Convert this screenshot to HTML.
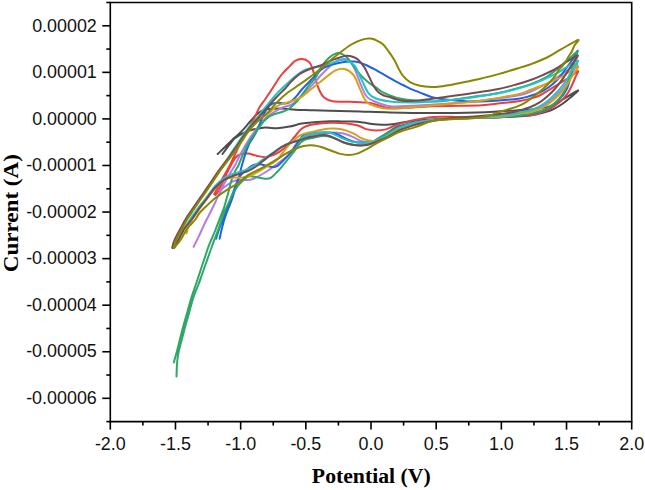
<!DOCTYPE html>
<html><head><meta charset="utf-8"><style>
html,body{margin:0;padding:0;background:#fff;}
body{width:645px;height:490px;overflow:hidden;}
svg{display:block;}
.tl{font-family:"Liberation Sans",sans-serif;font-size:17.9px;fill:#111;}
.at{font-family:"Liberation Serif",serif;font-weight:bold;font-size:20px;fill:#000;}
</style></head><body>
<svg width="645" height="490" viewBox="0 0 645 490">
<g fill="none" stroke-width="2" stroke-linecap="round" stroke-linejoin="round">
<path d="M217.7,154.0 C218.9,152.8 222.6,149.4 225.0,147.0 C227.4,144.6 230.2,141.7 232.4,139.6 C234.6,137.5 236.5,136.2 238.3,134.5 C240.1,132.8 241.8,131.1 243.4,129.4 C245.0,127.7 246.4,125.9 247.8,124.2 C249.2,122.5 250.6,121.0 252.0,119.5 C253.4,118.0 254.6,116.3 256.0,115.0 C257.4,113.7 258.8,112.5 260.5,111.5 C262.2,110.5 263.6,109.8 266.0,109.3 C268.4,108.8 271.8,108.8 275.0,108.7 C278.2,108.6 282.0,108.5 285.4,108.7 C288.8,108.9 291.4,109.5 295.6,109.7 C299.9,110.0 305.2,110.0 310.9,110.2 C316.6,110.4 321.8,110.6 330.0,110.8 C338.2,111.0 350.0,111.2 360.0,111.5 C370.0,111.8 377.8,112.2 390.0,112.4 C402.2,112.7 418.5,113.0 433.0,113.0 C447.5,113.0 465.8,112.7 477.0,112.4 C488.2,112.1 493.7,111.6 500.0,111.3 C506.3,111.0 510.0,110.7 515.0,110.4 C520.0,110.1 524.3,110.0 530.0,109.4 C535.7,108.8 543.6,108.2 549.0,106.6 C554.4,104.9 557.8,102.2 562.6,99.5 C567.4,96.8 576.6,90.9 578.0,90.5 C579.4,90.1 573.4,95.0 570.8,97.2 C568.2,99.4 565.3,101.9 562.6,103.8 C559.9,105.7 557.2,107.3 554.5,108.7 C551.8,110.1 550.4,110.8 546.3,111.9 C542.2,113.0 537.7,114.6 530.0,115.5 C522.3,116.4 510.0,116.8 500.0,117.2 C490.0,117.6 481.7,117.6 470.0,118.0 C458.3,118.4 440.4,119.0 430.0,119.6 C419.6,120.2 413.8,121.0 407.5,121.8 C401.2,122.6 396.2,123.7 392.0,124.2 C387.8,124.7 385.3,124.8 382.0,124.8 C378.7,124.8 375.1,124.4 372.0,124.0 C368.9,123.6 366.4,123.0 363.3,122.6 C360.2,122.2 357.2,121.8 353.3,121.6 C349.4,121.4 343.9,121.3 340.0,121.3 C336.1,121.2 334.3,121.1 330.0,121.3 C325.7,121.5 318.7,121.9 314.0,122.3 C309.3,122.7 305.8,122.9 301.7,123.6 C297.6,124.3 293.6,125.8 289.5,126.6 C285.4,127.4 280.1,128.0 277.2,128.2 C274.3,128.4 274.1,128.1 272.0,128.0 C269.9,127.9 266.8,127.3 264.7,127.4 C262.6,127.5 261.1,128.2 259.1,128.6 C257.2,128.9 254.9,129.1 253.0,129.5 C251.1,129.9 249.2,130.5 247.9,131.0 C246.6,131.5 245.9,132.0 244.9,132.5 C243.9,133.0 243.0,133.2 241.9,133.8 C240.8,134.4 239.6,135.2 238.3,136.0 C237.0,136.8 235.0,137.9 233.9,138.9 C232.8,139.9 232.7,140.4 231.6,141.9 C230.5,143.4 228.7,145.7 227.2,147.7 C225.7,149.7 223.3,152.9 222.5,154.0" stroke="#4d4d4d"/>
<path d="M214.2,194.2 C215.0,192.8 217.3,188.3 218.8,185.5 C220.3,182.7 221.2,180.8 223.0,177.5 C224.8,174.2 227.8,169.3 229.5,166.0 C231.2,162.7 231.8,161.0 233.5,157.5 C235.2,154.0 237.6,148.8 239.5,145.0 C241.4,141.2 243.3,138.1 245.0,135.0 C246.7,131.9 248.2,129.4 249.8,126.5 C251.4,123.6 252.8,120.8 254.5,117.5 C256.2,114.2 258.2,109.5 260.0,106.5 C261.8,103.5 262.8,102.7 265.0,99.5 C267.2,96.3 270.5,91.3 273.2,87.2 C275.9,83.1 278.5,78.5 281.3,75.0 C284.1,71.5 287.7,68.3 290.0,65.9 C292.3,63.5 293.1,61.9 295.1,60.8 C297.1,59.7 299.7,59.0 302.0,59.1 C304.3,59.2 307.1,60.3 308.8,61.7 C310.5,63.1 311.1,64.6 312.2,67.6 C313.3,70.6 314.5,75.9 315.6,79.6 C316.7,83.2 317.6,86.5 319.0,89.5 C320.4,92.5 321.8,95.5 324.1,97.5 C326.4,99.5 328.3,100.5 332.6,101.2 C336.9,101.9 344.0,101.5 349.7,101.7 C355.4,101.9 362.5,102.2 366.7,102.6 C370.9,103.0 372.3,103.5 375.0,104.2 C377.7,104.9 380.2,106.1 383.0,106.8 C385.8,107.5 387.2,108.2 392.0,108.3 C396.8,108.4 404.8,107.8 411.7,107.5 C418.6,107.2 425.3,106.5 433.4,106.2 C441.4,105.9 451.9,106.0 460.0,105.8 C468.1,105.6 475.1,105.6 481.8,105.2 C488.5,104.8 493.6,104.0 500.0,103.3 C506.4,102.6 515.0,101.8 520.0,101.0 C525.0,100.2 526.7,99.6 530.0,98.7 C533.3,97.8 536.6,96.9 539.6,95.5 C542.6,94.1 544.8,92.5 548.1,90.5 C551.4,88.5 555.6,85.8 559.3,83.5 C563.0,81.2 567.4,78.6 570.5,76.5 C573.6,74.4 577.2,70.9 578.0,71.0 C578.8,71.1 576.5,74.8 575.5,77.0 C574.5,79.2 573.4,82.1 572.3,84.5 C571.2,86.9 570.1,89.3 568.8,91.5 C567.5,93.7 565.9,95.7 564.3,97.5 C562.7,99.3 561.7,100.5 559.2,102.4 C556.7,104.4 552.7,107.4 549.4,109.2 C546.1,111.0 542.8,112.1 539.6,113.1 C536.4,114.1 536.9,114.6 530.0,115.2 C523.1,115.8 507.4,116.5 498.5,116.9 C489.6,117.3 484.0,117.5 476.8,117.5 C469.6,117.5 462.3,117.0 455.1,116.9 C447.9,116.8 439.2,116.6 433.4,116.9 C427.5,117.2 424.3,118.2 420.0,119.0 C415.7,119.8 411.6,120.5 407.5,121.6 C403.4,122.7 398.7,124.2 395.1,125.5 C391.5,126.8 388.9,128.6 385.8,129.4 C382.7,130.2 379.6,130.5 376.5,130.5 C373.4,130.5 370.3,130.2 367.2,129.4 C364.1,128.6 361.5,126.5 357.9,125.5 C354.3,124.5 350.1,123.7 345.5,123.2 C340.9,122.8 335.2,122.6 330.0,122.8 C324.8,123.0 317.9,123.7 314.0,124.2 C310.1,124.7 308.9,125.1 306.6,126.0 C304.4,126.9 302.5,127.9 300.5,129.7 C298.5,131.5 296.6,134.3 294.4,137.0 C292.1,139.7 289.4,143.2 287.0,145.6 C284.6,148.0 282.1,150.1 279.7,151.7 C277.2,153.3 274.8,154.5 272.3,155.4 C269.9,156.3 267.6,157.1 265.0,157.2 C262.4,157.2 259.2,156.3 256.4,155.7 C253.5,155.1 250.5,153.8 247.9,153.6 C245.3,153.4 242.8,153.6 240.7,154.3 C238.6,155.0 236.9,156.0 235.2,158.0 C233.5,160.0 231.9,163.4 230.3,166.3 C228.7,169.2 227.2,172.6 225.8,175.5 C224.4,178.4 223.2,181.4 221.9,184.0 C220.6,186.6 219.3,189.4 218.2,191.2 C217.1,193.0 215.9,194.4 215.4,195.0" stroke="#e8403f"/>
<path d="M193.6,246.8 C194.4,245.1 197.0,240.2 198.7,236.6 C200.4,233.0 202.1,229.0 203.8,225.4 C205.5,221.8 207.2,218.6 208.9,215.2 C210.6,211.8 211.9,209.4 214.0,205.0 C216.1,200.6 218.7,193.8 221.4,188.6 C224.1,183.3 227.7,177.4 230.0,173.5 C232.3,169.6 233.4,168.1 235.1,165.0 C236.8,161.9 238.5,158.0 240.2,154.8 C241.9,151.6 243.6,148.5 245.3,145.6 C247.0,142.7 248.7,139.9 250.4,137.4 C252.1,134.9 253.7,132.8 255.5,130.3 C257.4,127.8 259.6,124.8 261.5,122.5 C263.4,120.2 265.2,118.3 267.0,116.8 C268.8,115.3 270.3,114.4 272.0,113.3 C273.7,112.2 275.4,111.2 277.0,110.3 C278.6,109.4 280.3,108.5 281.9,107.8 C283.5,107.1 284.9,106.8 286.5,106.3 C288.1,105.8 289.6,105.4 291.2,104.6 C292.8,103.8 294.4,102.6 296.0,101.2 C297.6,99.8 298.7,98.4 300.7,96.4 C302.7,94.4 305.3,91.8 307.9,89.3 C310.4,86.8 313.8,83.5 316.0,81.1 C318.2,78.7 318.1,78.1 321.1,75.0 C324.2,71.9 330.7,65.2 334.3,62.5 C337.9,59.9 340.3,59.4 342.9,59.1 C345.5,58.8 347.7,59.1 349.7,60.8 C351.7,62.5 352.8,65.0 354.8,69.3 C356.8,73.6 359.6,81.9 361.6,86.4 C363.6,91.0 364.4,94.0 366.7,96.6 C369.0,99.1 371.4,100.1 375.3,101.7 C379.2,103.3 383.9,105.5 390.0,106.2 C396.1,106.9 404.5,106.1 411.7,105.8 C418.9,105.5 425.3,105.0 433.4,104.5 C441.4,104.0 450.6,103.3 460.0,102.5 C469.4,101.7 480.0,100.8 490.0,99.5 C500.0,98.2 513.0,96.4 520.0,95.0 C527.0,93.6 527.3,93.0 532.0,91.0 C536.7,89.0 542.8,85.9 548.0,83.0 C553.2,80.1 558.2,76.7 563.0,73.5 C567.8,70.3 575.5,63.9 577.0,63.8 C578.5,63.7 573.8,69.7 572.0,73.0 C570.2,76.3 568.6,80.2 566.5,83.5 C564.4,86.8 562.1,89.5 559.2,92.5 C556.4,95.5 552.7,99.0 549.4,101.5 C546.1,104.0 542.8,106.2 539.6,107.8 C536.4,109.4 533.3,110.3 530.0,111.2 C526.7,112.1 525.0,112.2 520.0,113.0 C515.0,113.8 508.3,115.5 500.0,116.3 C491.7,117.1 481.7,117.1 470.0,117.8 C458.3,118.5 440.4,119.2 430.0,120.3 C419.6,121.4 413.8,122.6 407.5,124.3 C401.2,126.0 396.6,128.1 392.0,130.5 C387.4,132.9 383.4,137.0 380.0,139.0 C376.6,141.0 374.0,142.0 371.9,142.6 C369.8,143.2 369.0,142.9 367.2,142.6 C365.4,142.3 363.3,141.9 361.0,141.0 C358.7,140.1 356.4,138.4 353.3,137.1 C350.2,135.8 346.3,134.1 342.4,133.3 C338.5,132.5 334.6,132.4 330.0,132.5 C325.4,132.6 319.3,133.0 315.0,134.0 C310.7,135.0 307.2,136.8 304.2,138.3 C301.2,139.8 299.2,140.5 296.8,143.2 C294.4,145.8 292.8,150.7 289.5,154.2 C286.2,157.7 281.3,160.9 277.2,164.0 C273.1,167.1 269.2,169.9 265.0,172.5 C260.8,175.1 255.7,178.1 252.1,179.3 C248.5,180.6 246.4,179.8 243.6,180.0 C240.8,180.2 237.6,179.8 235.0,180.5 C232.4,181.2 230.3,182.9 228.0,184.5 C225.7,186.1 223.7,186.6 221.4,190.0 C219.1,193.4 215.2,202.5 214.0,205.0" stroke="#b07ce6"/>
<path d="M219.6,238.7 C220.0,236.9 221.0,231.8 222.0,228.0 C223.0,224.2 223.8,220.8 225.5,216.0 C227.2,211.2 230.1,204.3 231.9,199.3 C233.7,194.3 235.0,189.9 236.3,185.8 C237.6,181.8 238.6,178.5 239.5,175.0 C240.4,171.5 241.0,168.5 242.0,165.0 C243.0,161.5 244.1,157.6 245.3,154.0 C246.5,150.4 248.1,146.3 249.3,143.6 C250.6,140.9 251.4,140.3 252.8,138.0 C254.2,135.7 256.1,132.4 257.5,129.5 C258.9,126.6 259.9,123.1 261.0,120.5 C262.1,117.9 262.9,116.2 264.0,114.0 C265.1,111.8 266.5,109.3 267.9,107.6 C269.3,105.9 270.7,104.4 272.6,103.6 C274.5,102.8 277.1,102.8 279.1,102.8 C281.1,102.8 283.1,103.6 284.7,103.6 C286.3,103.6 287.7,103.2 289.0,102.6 C290.3,102.0 291.1,101.4 292.5,100.2 C293.9,99.0 295.6,97.1 297.2,95.3 C298.8,93.5 300.0,91.5 301.8,89.5 C303.6,87.5 305.9,85.3 307.9,83.2 C309.9,81.1 311.3,79.6 314.0,77.0 C316.7,74.4 319.4,70.1 324.1,67.6 C328.8,65.1 337.2,63.2 342.3,62.2 C347.4,61.2 351.2,61.3 354.5,61.5 C357.8,61.7 359.8,62.7 361.9,63.4 C364.0,64.1 365.0,64.5 367.1,65.5 C369.2,66.5 371.9,67.9 374.3,69.2 C376.7,70.5 379.0,71.9 381.4,73.2 C383.8,74.5 386.2,75.9 388.6,77.3 C391.0,78.7 393.3,80.1 395.7,81.4 C398.1,82.7 400.5,83.8 402.9,85.0 C405.3,86.2 407.6,87.5 410.0,88.6 C412.4,89.7 414.7,90.5 417.1,91.4 C419.5,92.4 421.9,93.4 424.3,94.3 C426.7,95.2 428.8,96.2 431.4,97.0 C434.0,97.8 437.2,98.3 440.0,98.8 C442.8,99.2 444.6,99.4 447.9,99.7 C451.2,100.0 455.2,100.5 460.0,100.8 C464.8,101.1 470.4,101.6 476.8,101.5 C483.2,101.4 491.3,100.9 498.5,100.4 C505.7,99.9 514.8,99.1 520.0,98.4 C525.2,97.7 526.5,97.0 529.8,96.0 C533.1,95.0 536.3,94.0 539.6,92.5 C542.9,91.0 546.3,89.0 549.4,86.7 C552.5,84.5 555.2,82.0 558.0,79.0 C560.8,76.0 563.6,71.8 566.0,68.5 C568.4,65.2 570.5,62.5 572.5,59.5 C574.5,56.5 577.5,50.5 577.8,50.7 C578.1,51.0 575.7,56.9 574.5,61.0 C573.3,65.1 572.0,70.9 570.8,75.5 C569.6,80.1 569.0,84.5 567.1,88.5 C565.2,92.5 562.2,96.3 559.2,99.4 C556.2,102.5 552.7,105.2 549.4,107.3 C546.1,109.3 542.9,110.6 539.6,111.7 C536.3,112.8 533.1,113.4 529.8,114.1 C526.5,114.8 525.0,115.1 520.0,115.6 C515.0,116.1 508.3,116.8 500.0,117.2 C491.7,117.6 481.7,117.3 470.0,117.8 C458.3,118.3 440.4,119.1 430.0,120.1 C419.6,121.1 413.3,122.7 407.5,124.0 C401.7,125.3 399.0,126.0 395.1,127.8 C391.2,129.6 388.2,132.5 384.3,134.8 C380.4,137.1 375.6,140.5 371.9,141.8 C368.2,143.1 364.9,142.8 362.0,142.8 C359.1,142.8 357.2,142.6 354.4,141.8 C351.6,141.0 347.9,139.4 345.1,138.2 C342.3,137.0 340.2,135.3 337.7,134.4 C335.2,133.5 333.6,133.1 330.2,132.8 C326.8,132.5 321.5,132.5 317.2,132.8 C312.9,133.1 307.2,133.5 304.2,134.8 C301.2,136.1 301.1,138.3 299.3,140.7 C297.5,143.1 295.2,146.7 293.2,149.3 C291.1,152.0 289.6,153.9 287.0,156.6 C284.4,159.3 280.4,163.9 277.9,165.7 C275.4,167.4 274.0,167.1 272.1,167.1 C270.2,167.1 268.5,166.2 266.4,165.7 C264.3,165.2 261.4,164.4 259.3,164.3 C257.2,164.2 255.8,164.1 253.6,165.0 C251.4,165.9 248.8,168.0 246.4,170.0 C244.0,172.0 241.4,173.8 239.3,177.1 C237.2,180.4 235.7,185.7 234.0,190.0 C232.3,194.3 230.7,198.7 229.0,203.0 C227.3,207.3 225.6,211.8 224.0,216.0 C222.4,220.2 220.8,224.2 219.5,228.0 C218.2,231.8 216.6,236.9 216.0,238.7" stroke="#1f63e0"/>
<path d="M173.9,362.5 C174.1,361.6 174.8,358.9 175.3,357.0 C175.8,355.1 176.4,353.2 177.0,351.0 C177.6,348.8 178.1,346.7 178.8,344.0 C179.5,341.3 180.2,338.2 181.0,335.0 C181.8,331.8 182.7,328.3 183.6,325.0 C184.5,321.7 185.6,318.3 186.5,315.0 C187.4,311.7 188.4,308.3 189.3,305.0 C190.2,301.7 191.1,298.3 192.2,295.0 C193.3,291.7 194.6,288.3 195.7,285.0 C196.8,281.7 197.9,278.3 199.0,275.0 C200.1,271.7 201.2,268.2 202.3,265.0 C203.4,261.8 204.4,258.8 205.3,256.0 C206.2,253.2 206.9,251.1 207.8,248.5 C208.7,245.9 209.5,244.0 210.9,240.7 C212.3,237.4 214.3,232.8 216.0,228.5 C217.7,224.2 219.7,218.8 221.1,215.2 C222.5,211.6 222.9,211.0 224.2,207.0 C225.4,203.0 227.4,195.8 228.6,191.4 C229.8,187.0 230.3,183.9 231.4,180.5 C232.5,177.1 234.0,173.8 235.2,171.2 C236.4,168.6 237.3,167.9 238.6,165.0 C239.9,162.1 241.6,157.4 243.2,153.8 C244.8,150.2 246.6,146.7 248.3,143.6 C250.0,140.5 251.7,137.9 253.4,135.4 C255.1,132.9 256.7,130.7 258.5,128.3 C260.3,125.9 262.2,123.1 264.0,121.1 C265.8,119.1 267.7,117.6 269.5,116.4 C271.3,115.2 273.0,114.7 275.0,114.0 C277.0,113.3 279.7,112.7 281.7,112.0 C283.7,111.3 285.4,110.9 287.0,110.0 C288.6,109.1 289.7,108.2 291.5,106.6 C293.3,105.0 295.6,102.9 297.7,100.5 C299.8,98.1 301.8,95.0 303.8,92.3 C305.8,89.6 307.9,86.8 309.9,84.2 C311.9,81.7 314.2,79.8 316.0,77.0 C317.8,74.2 318.5,70.9 320.7,67.6 C322.9,64.3 326.4,59.8 329.2,57.4 C332.0,55.0 335.2,53.5 337.4,53.0 C339.6,52.5 340.5,53.3 342.3,54.2 C344.1,55.1 346.0,56.3 348.0,58.5 C350.0,60.7 352.2,64.5 354.5,67.5 C356.8,70.5 359.4,73.9 361.9,76.5 C364.3,79.1 366.8,81.1 369.2,83.0 C371.6,84.9 374.6,86.5 376.6,87.9 C378.6,89.3 379.4,90.3 381.4,91.5 C383.4,92.7 386.0,93.9 388.6,95.0 C391.2,96.1 394.0,97.1 397.1,97.9 C400.2,98.7 401.1,99.2 407.1,99.8 C413.2,100.4 425.4,101.5 433.4,101.5 C441.4,101.5 447.9,100.4 455.1,99.5 C462.3,98.6 469.6,97.4 476.8,96.3 C484.0,95.2 491.3,94.5 498.5,93.0 C505.7,91.5 515.0,88.9 520.2,87.5 C525.5,86.1 525.6,86.2 530.0,84.5 C534.4,82.8 542.0,79.4 546.3,77.0 C550.6,74.6 553.0,72.3 556.0,70.0 C559.0,67.7 561.5,65.2 564.0,63.0 C566.5,60.8 568.8,58.8 571.0,57.0 C573.2,55.2 576.6,51.3 577.0,52.5 C577.4,53.7 574.8,59.8 573.5,64.0 C572.2,68.2 570.9,73.7 569.5,78.0 C568.1,82.3 566.9,86.3 565.0,90.0 C563.1,93.7 560.7,97.1 558.0,100.0 C555.3,102.9 552.0,105.4 549.0,107.3 C546.0,109.2 543.2,110.2 540.0,111.3 C536.8,112.4 533.3,113.1 530.0,113.8 C526.7,114.5 525.0,114.8 520.0,115.3 C515.0,115.8 508.3,116.5 500.0,116.9 C491.7,117.3 481.7,117.2 470.0,117.8 C458.3,118.4 440.4,119.4 430.0,120.5 C419.6,121.6 413.8,122.8 407.5,124.5 C401.2,126.2 396.6,128.3 392.0,130.5 C387.4,132.7 383.3,135.7 380.0,137.8 C376.7,139.9 375.0,141.9 372.0,143.2 C369.0,144.5 364.9,145.3 362.0,145.6 C359.1,145.9 357.2,145.4 354.4,145.0 C351.6,144.6 347.9,143.9 345.1,143.0 C342.3,142.1 340.2,140.6 337.7,139.6 C335.2,138.6 332.4,137.4 330.2,136.8 C328.0,136.2 326.4,136.1 324.5,136.0 C322.6,135.9 321.1,136.2 319.0,136.5 C316.9,136.8 314.3,137.4 312.0,137.9 C309.7,138.4 306.9,138.9 305.0,139.7 C303.1,140.5 301.9,141.5 300.5,142.8 C299.1,144.2 298.1,145.8 296.6,147.8 C295.1,149.8 293.3,152.5 291.4,155.0 C289.4,157.5 287.1,160.3 284.9,162.9 C282.7,165.5 280.7,168.2 278.3,170.7 C275.9,173.2 273.1,176.6 270.7,177.9 C268.2,179.2 266.0,178.7 263.6,178.6 C261.2,178.5 258.8,177.5 256.4,177.1 C254.0,176.7 251.7,175.7 249.3,176.4 C246.9,177.1 244.5,179.1 242.1,181.4 C239.7,183.7 237.0,186.9 235.0,190.0 C233.0,193.1 231.8,196.2 230.0,200.0 C228.2,203.8 225.8,208.4 224.0,213.0 C222.2,217.6 220.8,222.8 219.1,227.4 C217.4,232.0 215.3,237.3 214.0,240.7 C212.7,244.1 212.2,245.6 211.3,248.0 C210.5,250.4 209.9,252.2 208.9,255.0 C207.9,257.8 206.5,261.7 205.3,265.0 C204.1,268.3 203.0,271.7 201.8,275.0 C200.6,278.3 199.6,281.7 198.3,285.0 C197.0,288.3 195.4,291.7 194.2,295.0 C193.0,298.3 192.1,301.7 191.2,305.0 C190.2,308.3 189.4,311.7 188.5,315.0 C187.6,318.3 186.5,321.7 185.6,325.0 C184.7,328.3 183.8,331.8 183.0,335.0 C182.2,338.2 181.3,341.3 180.6,344.0 C179.9,346.7 179.3,348.7 178.8,351.0 C178.3,353.3 177.9,355.5 177.6,358.0 C177.3,360.5 177.1,362.9 176.9,366.0 C176.7,369.1 176.6,374.7 176.5,376.4" stroke="#2da866"/>
<path d="M174.2,247.0 C174.3,246.5 174.2,245.3 174.6,244.0 C175.0,242.7 175.8,240.7 176.5,239.0 C177.2,237.3 178.1,235.7 179.0,234.0 C179.9,232.3 180.9,230.7 181.8,229.0 C182.7,227.3 183.6,225.7 184.5,224.0 C185.4,222.3 185.8,221.3 187.2,219.0 C188.6,216.7 191.1,213.1 193.2,210.0 C195.3,206.9 197.6,203.6 199.7,200.5 C201.8,197.4 203.9,194.6 206.0,191.5 C208.1,188.4 210.4,185.1 212.5,182.0 C214.6,178.9 216.6,175.8 218.5,173.0 C220.4,170.2 222.1,168.0 224.0,165.5 C225.9,163.0 227.9,160.5 229.8,158.0 C231.7,155.5 233.5,153.0 235.3,150.5 C237.1,148.0 238.8,145.5 240.5,143.0 C242.2,140.5 243.8,137.9 245.5,135.5 C247.2,133.1 248.7,130.7 250.5,128.5 C252.3,126.3 254.6,124.1 256.5,122.3 C258.4,120.5 260.2,118.8 262.0,117.5 C263.8,116.2 265.4,115.3 267.0,114.2 C268.6,113.1 270.1,112.0 271.5,110.8 C272.9,109.6 274.0,108.2 275.5,107.2 C277.0,106.2 277.8,105.5 280.3,104.6 C282.8,103.6 287.1,102.7 290.5,101.5 C293.9,100.3 297.3,99.4 300.7,97.4 C304.1,95.4 307.7,91.8 310.9,89.3 C314.1,86.8 317.8,84.0 320.1,82.1 C322.5,80.2 322.4,80.1 325.0,78.1 C327.6,76.1 332.7,71.7 336.0,70.2 C339.3,68.7 341.8,68.3 344.6,69.0 C347.5,69.7 350.8,71.9 353.1,74.5 C355.4,77.1 356.5,81.0 358.2,84.7 C359.9,88.4 361.6,93.5 363.3,96.6 C365.0,99.7 365.6,101.6 368.4,103.4 C371.2,105.2 376.4,106.6 380.0,107.5 C383.6,108.4 384.7,108.8 390.0,108.8 C395.3,108.8 404.5,107.8 411.7,107.3 C418.9,106.8 426.2,106.2 433.4,105.6 C440.6,104.9 447.9,104.1 455.1,103.4 C462.3,102.7 469.6,102.1 476.8,101.2 C484.0,100.3 491.3,99.3 498.5,98.0 C505.7,96.7 515.0,94.9 520.2,93.6 C525.5,92.3 525.7,91.6 530.0,90.0 C534.3,88.4 540.7,86.2 546.0,84.0 C551.3,81.8 556.7,79.5 562.0,76.5 C567.3,73.5 576.2,66.4 578.0,66.2 C579.8,66.0 574.3,72.4 572.5,75.5 C570.7,78.6 569.3,81.5 567.1,84.7 C564.9,87.9 562.2,91.4 559.2,94.5 C556.2,97.6 552.7,100.8 549.4,103.3 C546.1,105.8 542.9,107.7 539.6,109.2 C536.3,110.7 533.1,111.5 529.8,112.2 C526.5,112.9 525.0,112.8 520.0,113.6 C515.0,114.4 508.3,116.1 500.0,116.8 C491.7,117.5 480.0,117.5 470.0,118.0 C460.0,118.5 449.2,118.7 440.0,119.5 C430.8,120.3 421.7,121.6 415.0,123.0 C408.3,124.4 404.1,126.2 400.0,128.0 C395.9,129.8 393.5,132.0 390.2,133.9 C386.9,135.8 382.8,138.3 380.0,139.5 C377.2,140.7 375.5,140.9 373.4,141.0 C371.3,141.1 369.3,140.7 367.2,140.2 C365.1,139.7 363.3,139.1 361.0,137.9 C358.7,136.8 356.4,134.7 353.3,133.3 C350.2,131.9 346.3,130.2 342.4,129.4 C338.5,128.6 334.3,128.3 330.0,128.6 C325.7,128.8 320.1,130.2 316.4,130.9 C312.7,131.6 310.8,132.0 307.9,132.8 C305.0,133.6 302.4,133.9 299.3,135.8 C296.2,137.7 293.1,140.5 289.5,144.4 C285.9,148.3 281.1,155.6 277.9,159.0 C274.6,162.4 272.4,163.0 270.0,164.6 C267.6,166.2 266.1,167.0 263.8,168.4 C261.5,169.8 258.6,171.5 256.0,172.8 C253.4,174.1 250.9,175.6 248.3,176.4 C245.7,177.2 243.0,177.6 240.5,177.8 C238.0,178.0 235.5,177.3 233.5,177.4 C231.5,177.5 230.0,177.9 228.5,178.3 C227.0,178.7 226.7,178.1 224.6,179.6 C222.5,181.1 219.1,183.7 216.0,187.1 C212.9,190.5 208.9,196.3 206.0,200.1 C203.1,203.8 201.1,206.4 198.8,209.6 C196.5,212.8 194.0,216.8 192.4,219.2 C190.8,221.6 190.1,222.4 189.3,224.0 C188.5,225.6 188.1,227.4 187.6,229.0 C187.1,230.6 186.8,232.7 186.6,233.4" stroke="#d4a21a"/>
<path d="M173.4,248.0 C173.5,247.3 173.8,245.5 174.2,244.0 C174.6,242.5 175.4,240.7 176.1,239.0 C176.8,237.3 177.7,235.7 178.6,234.0 C179.5,232.3 180.5,230.7 181.4,229.0 C182.3,227.3 183.2,225.7 184.1,224.0 C185.0,222.3 185.4,221.3 186.8,219.0 C188.2,216.7 190.7,213.1 192.8,210.0 C194.9,206.9 197.2,203.6 199.3,200.5 C201.4,197.4 203.5,194.6 205.6,191.5 C207.7,188.4 210.0,185.1 212.1,182.0 C214.2,178.9 216.3,175.8 218.1,173.0 C219.9,170.2 221.4,168.0 223.1,165.5 C224.8,163.0 226.5,160.5 228.1,158.0 C229.7,155.5 231.2,153.0 232.8,150.5 C234.4,148.0 236.2,145.5 237.9,143.0 C239.6,140.5 241.2,137.9 242.9,135.5 C244.6,133.1 246.2,130.8 247.9,128.5 C249.7,126.2 251.6,124.1 253.4,122.0 C255.2,119.9 256.6,118.4 258.5,116.0 C260.4,113.6 262.2,111.1 265.0,107.7 C267.8,104.3 271.8,99.2 275.2,95.4 C278.6,91.7 282.6,87.9 285.4,85.2 C288.2,82.5 289.9,81.0 292.0,79.2 C294.1,77.4 296.1,75.6 298.0,74.2 C299.9,72.8 301.6,71.6 303.6,70.6 C305.6,69.6 307.7,69.1 310.0,68.4 C312.3,67.7 313.8,67.4 317.3,66.6 C320.8,65.8 326.9,64.5 330.9,63.4 C334.9,62.3 338.3,60.4 341.2,60.0 C344.1,59.6 345.7,59.8 348.0,60.8 C350.3,61.8 352.5,62.8 354.8,65.9 C357.1,69.0 359.3,75.0 361.6,79.6 C363.9,84.1 366.1,90.1 368.4,93.2 C370.7,96.3 371.7,96.9 375.3,98.3 C378.9,99.7 383.9,100.8 390.0,101.5 C396.1,102.2 404.5,102.4 411.7,102.4 C418.9,102.4 426.2,101.9 433.4,101.4 C440.6,100.9 447.9,100.4 455.1,99.6 C462.3,98.8 469.6,97.8 476.8,96.8 C484.0,95.8 491.9,94.6 498.5,93.3 C505.1,92.0 510.6,90.5 516.3,89.0 C522.0,87.5 527.2,86.1 532.7,84.1 C538.2,82.1 544.6,79.0 549.0,77.0 C553.4,75.0 556.5,73.5 559.2,72.0 C561.9,70.5 562.2,69.7 565.3,67.8 C568.4,65.9 576.4,60.5 577.8,60.5 C579.2,60.5 574.8,65.3 573.5,67.5 C572.2,69.7 571.2,71.7 570.0,73.9 C568.8,76.1 567.9,78.2 566.1,80.8 C564.3,83.4 562.0,86.5 559.2,89.6 C556.4,92.7 552.7,96.6 549.4,99.4 C546.1,102.2 542.9,104.5 539.6,106.3 C536.3,108.1 533.1,109.2 529.8,110.2 C526.5,111.2 523.3,111.5 520.0,112.2 C516.7,112.9 516.7,113.7 510.0,114.5 C503.3,115.3 490.0,116.5 480.0,117.3 C470.0,118.0 459.2,118.4 450.0,119.0 C440.8,119.6 432.1,120.0 425.0,121.0 C417.9,122.0 413.0,122.8 407.5,124.8 C402.0,126.8 397.2,130.6 392.0,133.3 C386.8,136.0 380.6,139.4 376.5,141.0 C372.4,142.6 370.3,142.3 367.2,142.6 C364.1,142.9 360.8,142.8 357.9,142.6 C355.0,142.4 352.4,141.8 350.0,141.2 C347.6,140.5 345.7,139.7 343.4,138.7 C341.1,137.7 338.4,136.2 336.4,135.3 C334.4,134.4 333.2,133.7 331.5,133.2 C329.8,132.7 328.0,132.6 325.9,132.5 C323.8,132.4 321.3,132.6 319.0,132.8 C316.7,133.0 314.3,133.4 312.0,133.9 C309.7,134.4 307.3,134.9 305.0,136.0 C302.7,137.1 300.8,138.9 298.0,140.2 C295.2,141.4 290.8,142.4 288.1,143.5 C285.4,144.6 283.8,145.5 281.6,146.8 C279.4,148.1 277.3,149.8 275.1,151.3 C272.9,152.8 270.7,154.3 268.5,155.8 C266.3,157.3 264.1,158.9 262.0,160.4 C259.9,161.9 258.3,163.2 256.0,164.6 C253.7,166.0 250.9,167.6 248.3,168.8 C245.7,170.0 243.1,170.7 240.5,171.6 C237.9,172.5 235.4,173.0 232.8,174.0 C230.2,175.0 227.8,175.6 225.0,177.5 C222.2,179.4 218.9,182.0 215.7,185.5 C212.5,189.0 208.8,194.7 205.7,198.6 C202.6,202.5 199.9,205.6 197.3,209.0 C194.8,212.4 192.1,216.5 190.4,219.0 C188.7,221.5 188.2,222.3 187.2,224.0 C186.2,225.7 185.1,227.3 184.2,229.0 C183.2,230.7 182.4,232.3 181.5,234.0 C180.6,235.7 179.7,237.3 178.8,239.0 C177.9,240.7 176.8,242.5 176.0,244.0 C175.2,245.5 174.3,247.3 174.0,248.0" stroke="#1fc4c8"/>
<path d="M172.3,248.0 C172.4,247.3 172.7,245.5 173.1,244.0 C173.5,242.5 174.3,240.7 175.0,239.0 C175.7,237.3 176.6,235.7 177.5,234.0 C178.4,232.3 179.4,230.7 180.3,229.0 C181.2,227.3 182.1,225.7 183.0,224.0 C183.9,222.3 184.2,221.3 185.7,219.0 C187.1,216.7 189.6,213.1 191.7,210.0 C193.8,206.9 196.1,203.6 198.2,200.5 C200.3,197.4 202.4,194.6 204.5,191.5 C206.6,188.4 208.9,185.1 211.0,182.0 C213.1,178.9 215.1,175.8 217.0,173.0 C218.9,170.2 220.6,168.0 222.5,165.5 C224.4,163.0 226.4,160.5 228.3,158.0 C230.2,155.5 232.0,153.0 233.8,150.5 C235.6,148.0 237.3,145.5 239.0,143.0 C240.7,140.5 242.3,137.9 244.0,135.5 C245.7,133.1 247.2,130.8 249.0,128.5 C250.8,126.2 252.8,124.0 254.5,122.0 C256.2,120.0 257.8,118.8 259.5,116.8 C261.2,114.8 262.4,113.2 265.0,110.2 C267.6,107.2 271.8,102.2 275.2,98.5 C278.6,94.8 282.6,91.2 285.4,88.3 C288.2,85.3 289.5,83.2 292.0,80.8 C294.5,78.3 297.1,75.6 300.2,73.6 C303.3,71.6 307.1,70.0 310.5,68.7 C313.9,67.4 317.0,67.0 320.7,65.5 C324.4,64.0 328.3,61.6 332.6,60.0 C336.9,58.4 342.7,56.1 346.3,55.7 C349.9,55.3 352.5,56.8 354.5,57.5 C356.5,58.2 356.6,58.1 358.2,59.7 C359.8,61.3 362.5,64.2 364.3,67.1 C366.1,70.0 367.6,73.6 369.2,76.9 C370.8,80.2 372.5,84.1 374.1,86.7 C375.7,89.3 377.3,91.3 379.0,92.8 C380.7,94.3 382.5,95.0 384.3,95.7 C386.1,96.5 387.2,96.5 390.0,97.3 C392.8,98.1 397.3,99.8 400.9,100.4 C404.5,101.0 406.3,101.3 411.7,101.0 C417.1,100.7 426.2,99.5 433.4,98.6 C440.6,97.7 447.9,96.6 455.1,95.6 C462.3,94.6 469.6,93.6 476.8,92.5 C484.0,91.4 491.9,90.3 498.5,89.0 C505.1,87.7 510.6,86.1 516.3,84.5 C522.0,82.9 527.9,81.0 532.7,79.2 C537.5,77.5 541.4,75.6 545.0,74.0 C548.6,72.4 551.1,71.3 554.2,69.6 C557.3,67.9 560.6,65.7 563.4,64.0 C566.1,62.3 568.3,60.7 570.7,59.3 C573.1,57.9 577.8,54.7 578.0,55.6 C578.2,56.5 574.0,61.5 572.0,64.5 C570.0,67.5 568.2,70.7 566.1,73.9 C564.0,77.1 561.2,81.1 559.2,83.7 C557.2,86.3 555.9,87.7 554.3,89.5 C552.7,91.3 551.8,92.3 549.4,94.5 C547.0,96.7 542.9,100.3 539.6,102.4 C536.3,104.5 533.1,106.0 529.8,107.3 C526.5,108.6 523.3,109.3 520.0,110.2 C516.7,111.1 516.7,111.7 510.0,112.7 C503.3,113.7 490.0,115.1 480.0,116.0 C470.0,116.9 458.3,117.4 450.0,118.3 C441.7,119.2 435.8,120.5 430.0,121.6 C424.2,122.7 420.3,123.3 415.3,124.7 C410.3,126.1 404.2,128.2 399.8,130.2 C395.4,132.1 392.8,134.5 388.9,136.4 C385.0,138.3 380.1,140.4 376.5,141.8 C372.9,143.2 370.3,144.3 367.2,144.9 C364.1,145.5 360.8,145.4 357.9,145.3 C355.0,145.2 352.4,144.8 350.0,144.3 C347.6,143.8 345.7,143.1 343.4,142.2 C341.1,141.3 338.7,140.1 336.4,139.1 C334.1,138.1 331.4,136.7 329.4,136.0 C327.4,135.3 326.2,135.0 324.5,134.9 C322.8,134.8 321.1,135.0 319.0,135.3 C316.9,135.6 314.3,136.2 312.0,136.7 C309.7,137.2 307.3,137.7 305.0,138.4 C302.7,139.1 300.8,139.8 298.0,140.7 C295.2,141.6 290.8,142.8 288.1,143.9 C285.4,145.0 283.8,145.9 281.6,147.2 C279.4,148.5 277.3,150.2 275.1,151.8 C272.9,153.4 270.7,154.9 268.5,156.6 C266.3,158.3 264.1,160.2 262.0,161.8 C259.9,163.5 258.3,165.0 256.0,166.5 C253.7,168.0 250.9,169.6 248.3,170.8 C245.7,172.0 243.1,172.6 240.5,173.5 C237.9,174.4 235.5,175.0 232.8,176.0 C230.2,177.0 227.4,177.8 224.6,179.6 C221.8,181.4 218.8,183.6 215.7,187.0 C212.5,190.4 208.6,196.2 205.7,200.0 C202.8,203.8 200.8,206.3 198.5,209.5 C196.2,212.7 193.8,216.6 192.0,219.0 C190.2,221.4 189.3,222.3 188.0,224.0 C186.7,225.7 185.3,227.3 184.2,229.0 C183.1,230.7 182.4,232.3 181.5,234.0 C180.6,235.7 179.7,237.3 178.8,239.0 C177.9,240.7 176.8,242.5 176.0,244.0 C175.2,245.5 174.3,247.3 174.0,248.0" stroke="#7a4a50"/>
<path d="M173.8,248.0 C173.9,247.3 174.2,245.5 174.6,244.0 C175.0,242.5 175.8,240.7 176.5,239.0 C177.2,237.3 178.1,235.7 179.0,234.0 C179.9,232.3 180.9,230.7 181.8,229.0 C182.7,227.3 183.6,225.7 184.5,224.0 C185.4,222.3 185.8,221.3 187.2,219.0 C188.6,216.7 191.1,213.1 193.2,210.0 C195.3,206.9 197.6,203.6 199.7,200.5 C201.8,197.4 203.9,194.6 206.0,191.5 C208.1,188.4 210.4,185.1 212.5,182.0 C214.6,178.9 216.6,175.8 218.5,173.0 C220.4,170.2 222.1,168.0 224.0,165.5 C225.9,163.0 227.9,160.5 229.8,158.0 C231.7,155.5 233.5,153.0 235.3,150.5 C237.1,148.0 238.8,145.5 240.5,143.0 C242.2,140.5 243.8,137.9 245.5,135.5 C247.2,133.1 248.7,130.7 250.5,128.5 C252.3,126.3 254.6,124.1 256.5,122.3 C258.4,120.5 260.3,118.9 262.0,117.5 C263.7,116.1 265.2,115.2 266.5,114.0 C267.8,112.8 268.4,112.1 270.0,110.3 C271.6,108.5 273.4,105.8 276.0,103.2 C278.6,100.6 282.1,97.1 285.4,94.4 C288.7,91.7 292.2,89.6 295.6,87.2 C299.0,84.8 302.7,82.3 305.8,80.1 C308.9,77.9 310.9,76.4 314.0,74.0 C317.1,71.6 321.0,68.5 324.1,65.9 C327.2,63.3 329.8,60.9 332.6,58.5 C335.5,56.1 338.4,54.0 341.2,51.8 C344.0,49.6 346.9,47.3 349.7,45.5 C352.5,43.7 355.6,42.3 358.2,41.2 C360.8,40.1 362.9,39.4 365.0,38.9 C367.1,38.4 368.7,38.3 370.5,38.5 C372.3,38.7 373.6,39.0 375.7,40.0 C377.8,41.0 380.8,42.4 382.9,44.3 C385.0,46.2 386.7,48.8 388.6,51.4 C390.5,54.0 392.6,57.1 394.3,60.0 C396.0,62.9 397.2,66.0 398.6,68.6 C400.0,71.2 401.0,73.5 402.9,75.7 C404.8,78.0 407.1,80.4 410.0,82.1 C412.9,83.8 416.4,84.9 420.0,85.7 C423.6,86.5 428.1,86.9 431.4,87.1 C434.7,87.2 436.1,87.1 440.0,86.6 C443.9,86.1 449.0,85.2 455.1,84.0 C461.2,82.8 469.6,81.2 476.8,79.5 C484.0,77.8 491.3,76.1 498.5,74.1 C505.7,72.1 515.0,69.2 520.2,67.6 C525.5,66.0 525.7,66.1 530.0,64.5 C534.3,62.9 540.8,60.5 546.0,58.0 C551.2,55.5 555.7,52.4 561.0,49.4 C566.3,46.4 575.8,40.6 578.0,40.0 C580.2,39.4 575.5,43.6 574.5,45.5 C573.5,47.4 572.9,49.4 571.8,51.4 C570.7,53.4 569.1,55.6 568.0,57.5 C566.9,59.4 566.5,60.8 565.3,62.5 C564.1,64.2 562.3,65.9 561.0,67.5 C559.7,69.1 558.6,70.4 557.5,72.0 C556.4,73.6 556.0,74.8 554.3,76.9 C552.6,79.0 550.0,82.2 547.5,84.7 C545.0,87.2 542.1,89.7 539.6,91.8 C537.1,93.9 535.2,95.4 532.7,97.3 C530.2,99.2 527.2,101.6 524.5,103.2 C521.8,104.8 519.0,105.9 516.3,106.9 C513.6,107.9 510.9,108.6 508.2,109.4 C505.5,110.2 503.4,110.7 500.0,111.8 C496.6,112.9 493.0,114.8 488.0,115.9 C483.0,117.0 475.5,117.9 470.0,118.4 C464.5,118.9 461.2,118.6 455.1,119.0 C449.0,119.4 440.0,119.5 433.4,120.8 C426.8,122.1 420.9,125.3 415.3,127.1 C409.7,128.9 404.2,130.0 399.8,131.7 C395.4,133.4 392.8,135.2 388.9,137.1 C385.0,139.0 380.1,141.4 376.5,143.3 C372.9,145.2 370.3,147.1 367.2,148.8 C364.1,150.5 361.0,152.4 357.9,153.4 C354.8,154.4 351.7,155.0 348.6,155.0 C345.5,155.0 342.4,154.4 339.3,153.6 C336.2,152.8 332.9,151.4 330.0,150.3 C327.1,149.2 324.6,148.1 322.0,147.3 C319.4,146.5 316.8,145.8 314.3,145.5 C311.8,145.2 309.4,145.3 307.0,145.6 C304.6,145.8 302.4,146.3 300.0,147.0 C297.6,147.7 295.1,148.8 292.6,150.0 C290.1,151.2 287.6,152.7 285.0,154.2 C282.4,155.7 280.8,156.9 277.2,159.1 C273.6,161.2 268.2,164.6 263.6,167.1 C259.0,169.6 252.4,172.6 249.3,174.3 C246.2,176.0 247.0,175.9 245.0,177.4 C243.0,178.9 240.6,181.4 237.5,183.6 C234.4,185.8 229.9,187.9 226.2,190.3 C222.4,192.7 218.4,195.5 215.0,198.2 C211.6,200.9 208.6,204.0 206.0,206.5 C203.4,209.0 201.2,210.9 199.5,213.0 C197.8,215.1 197.2,217.2 195.8,219.0 C194.4,220.8 192.7,222.3 191.2,224.0 C189.7,225.7 188.2,227.3 187.0,229.0 C185.8,230.7 185.0,232.3 184.0,234.0 C183.0,235.7 182.3,237.3 181.2,239.0 C180.1,240.7 178.7,242.5 177.5,244.0 C176.3,245.5 174.8,247.2 174.3,247.8" stroke="#878700"/>
</g>
<g fill="none" stroke="#000" stroke-width="1.6">
<path d="M110.3,2.5 H631.7 V421.6 H110.3 Z" />
<path d="M102.3,25.78 H110.3"/>
<path d="M102.3,72.35 H110.3"/>
<path d="M102.3,118.92 H110.3"/>
<path d="M102.3,165.48 H110.3"/>
<path d="M102.3,212.05 H110.3"/>
<path d="M102.3,258.62 H110.3"/>
<path d="M102.3,305.18 H110.3"/>
<path d="M102.3,351.75 H110.3"/>
<path d="M102.3,398.32 H110.3"/>
<path d="M106.3,2.50 H110.3"/>
<path d="M106.3,49.07 H110.3"/>
<path d="M106.3,95.63 H110.3"/>
<path d="M106.3,142.20 H110.3"/>
<path d="M106.3,188.77 H110.3"/>
<path d="M106.3,235.33 H110.3"/>
<path d="M106.3,281.90 H110.3"/>
<path d="M106.3,328.47 H110.3"/>
<path d="M106.3,375.03 H110.3"/>
<path d="M106.3,421.60 H110.3"/>
<path d="M110.30,421.6 V429.6"/>
<path d="M175.48,421.6 V429.6"/>
<path d="M240.65,421.6 V429.6"/>
<path d="M305.83,421.6 V429.6"/>
<path d="M371.00,421.6 V429.6"/>
<path d="M436.18,421.6 V429.6"/>
<path d="M501.35,421.6 V429.6"/>
<path d="M566.53,421.6 V429.6"/>
<path d="M631.70,421.6 V429.6"/>
<path d="M142.89,421.6 V425.6"/>
<path d="M208.06,421.6 V425.6"/>
<path d="M273.24,421.6 V425.6"/>
<path d="M338.41,421.6 V425.6"/>
<path d="M403.59,421.6 V425.6"/>
<path d="M468.76,421.6 V425.6"/>
<path d="M533.94,421.6 V425.6"/>
<path d="M599.11,421.6 V425.6"/>
</g>
<text x="96.8" y="31.5" text-anchor="end" class="tl">0.00002</text>
<text x="96.8" y="78.0" text-anchor="end" class="tl">0.00001</text>
<text x="96.8" y="124.6" text-anchor="end" class="tl">0.00000</text>
<text x="96.8" y="171.2" text-anchor="end" class="tl">-0.00001</text>
<text x="96.8" y="217.8" text-anchor="end" class="tl">-0.00002</text>
<text x="96.8" y="264.3" text-anchor="end" class="tl">-0.00003</text>
<text x="96.8" y="310.9" text-anchor="end" class="tl">-0.00004</text>
<text x="96.8" y="357.4" text-anchor="end" class="tl">-0.00005</text>
<text x="96.8" y="404.0" text-anchor="end" class="tl">-0.00006</text>
<text x="110.3" y="449.5" text-anchor="middle" class="tl">-2.0</text>
<text x="175.5" y="449.5" text-anchor="middle" class="tl">-1.5</text>
<text x="240.7" y="449.5" text-anchor="middle" class="tl">-1.0</text>
<text x="305.8" y="449.5" text-anchor="middle" class="tl">-0.5</text>
<text x="371.0" y="449.5" text-anchor="middle" class="tl">0.0</text>
<text x="436.2" y="449.5" text-anchor="middle" class="tl">0.5</text>
<text x="501.4" y="449.5" text-anchor="middle" class="tl">1.0</text>
<text x="566.5" y="449.5" text-anchor="middle" class="tl">1.5</text>
<text x="631.7" y="449.5" text-anchor="middle" class="tl">2.0</text>
<text transform="translate(371.3,482.8) scale(1.05,1)" text-anchor="middle" class="at" style="font-size:20.7px">Potential (V)</text>
<text transform="translate(18.2,213.2) rotate(-90) scale(1.05,1)" text-anchor="middle" class="at" style="font-size:22px">Current (A)</text>
</svg>
</body></html>
